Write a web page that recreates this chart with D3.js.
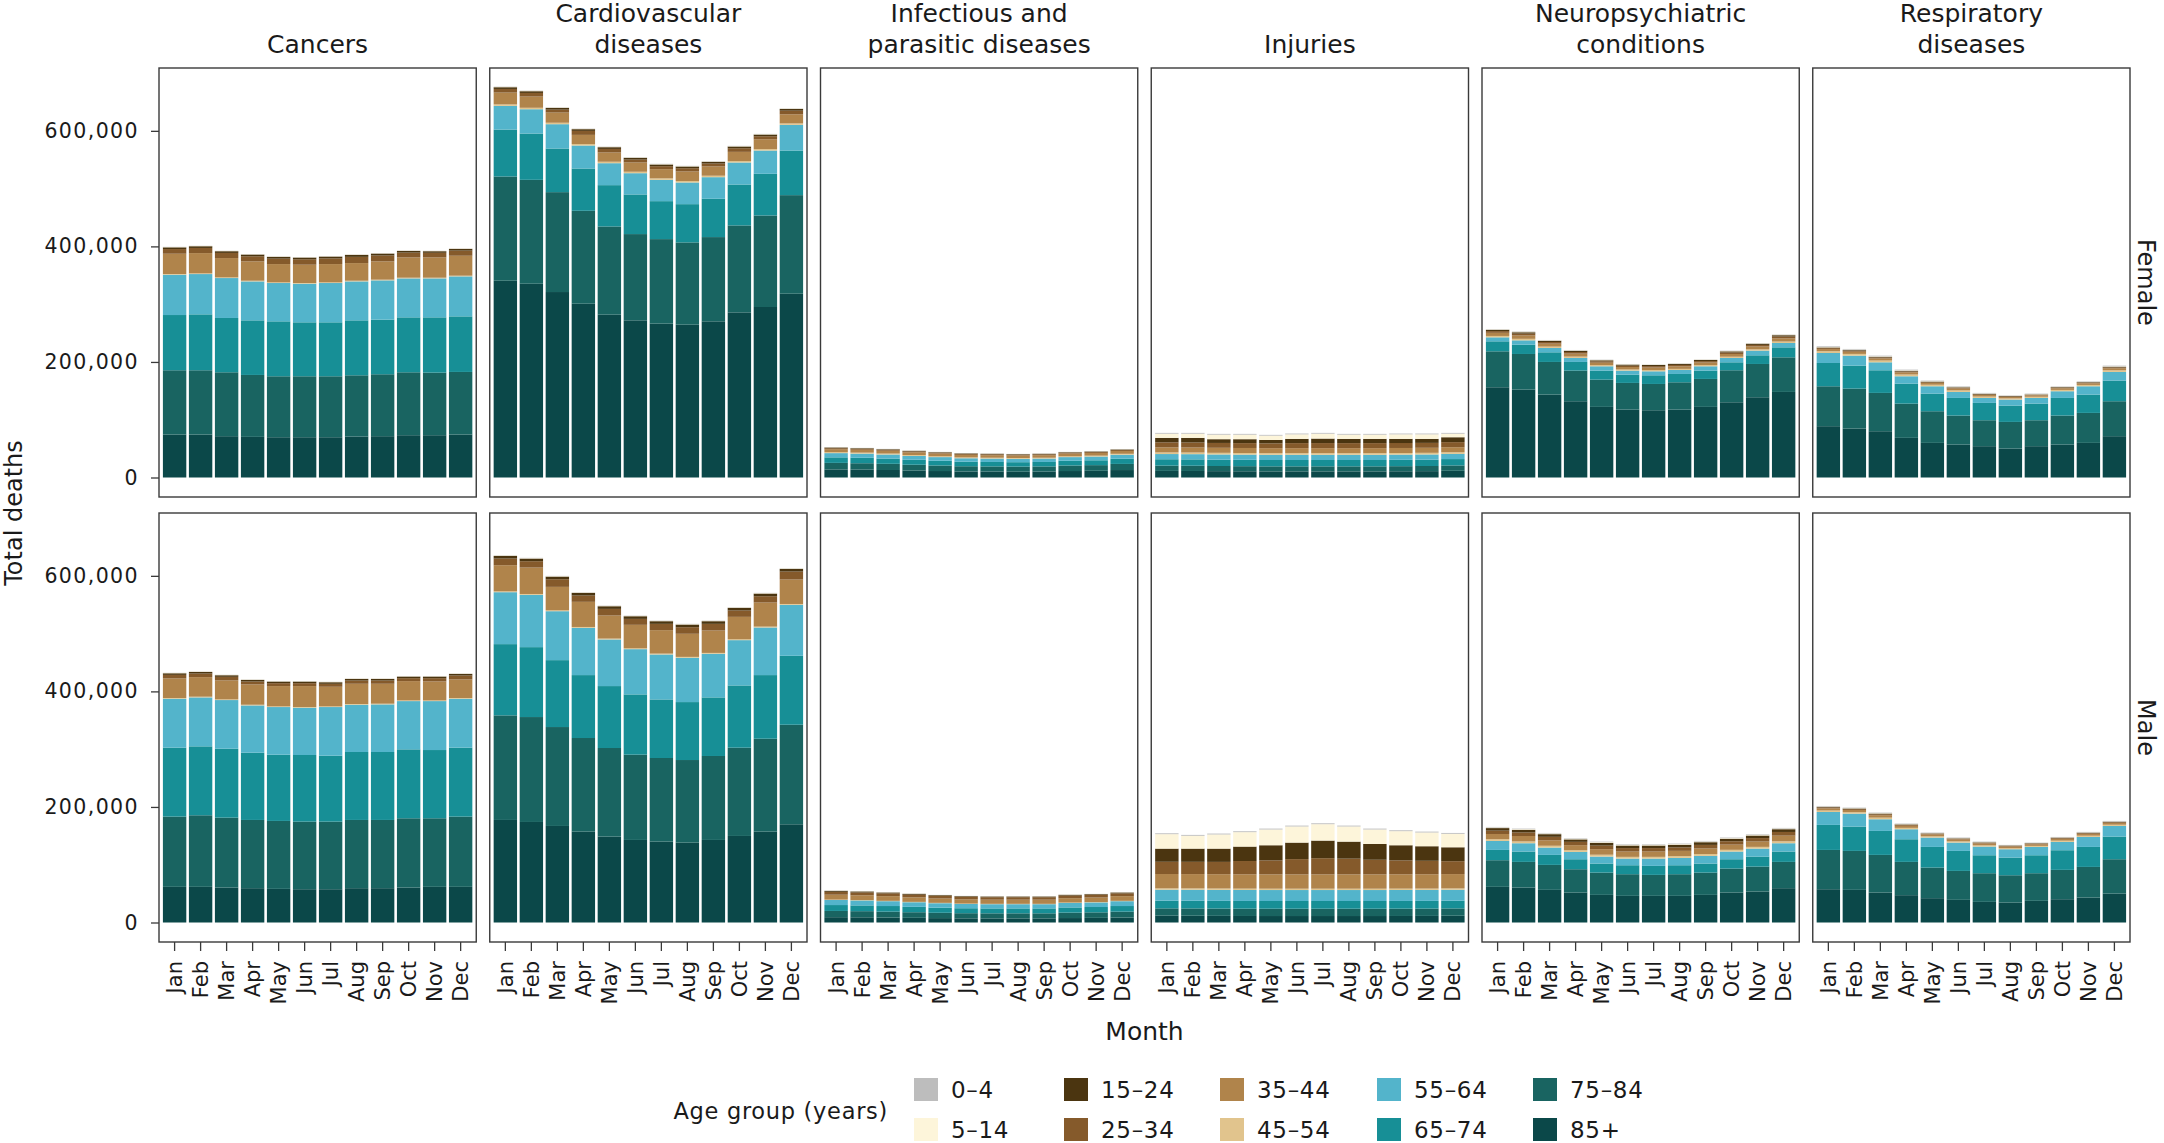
<!DOCTYPE html>
<html><head><meta charset="utf-8">
<script src="https://cdn.jsdelivr.net/npm/d3@7"></script>
<style>
body{margin:0;background:#fff;}
svg{display:block;}
text{font-family:"DejaVu Sans",sans-serif;fill:#1a1a1a;}
</style>
</head><body>
<svg id="chart" width="2164" height="1143"></svg>
<script>
// ---------- data (values in thousands of deaths) ----------
const months = ["Jan","Feb","Mar","Apr","May","Jun","Jul","Aug","Sep","Oct","Nov","Dec"];
const ageGroups = ["0–4","5–14","15–24","25–34","35–44","45–54","55–64","65–74","75–84","85+"];
const ageColors = ["#bdbdbd","#fdf5da","#4b3510","#855a2b","#b0844b","#e1c48d","#53b4cb","#178f96","#196461","#0b4849"];
const causeTitles = [["Cancers"],["Cardiovascular","diseases"],["Infectious and","parasitic diseases"],["Injuries"],["Neuropsychiatric","conditions"],["Respiratory","diseases"]];
const sexes = ["Female","Male"];
const yTicks = [0, 200, 400, 600];

// rows follow ageGroups order (0–4 ... 85+), columns follow months
const cancersFemale = [
 [0.3,0.3,0.3,0.3,0.3,0.3,0.3,0.3,0.3,0.3,0.3,0.3],
 [0.5,0.5,0.5,0.5,0.5,0.5,0.5,0.5,0.5,0.5,0.5,0.5],
 [3.0,3.0,3.0,3.0,3.1,3.0,3.2,3.4,3.3,2.9,2.8,3.0],
 [8.1,8.9,8.9,8.9,9.4,9.4,9.8,10.8,10.3,8.4,8.0,8.9],
 [35.1,35.1,33.4,33.4,31.6,31.7,31.6,30.5,31.6,35.1,35.1,34.5],
 [1.2,1.2,1.2,1.2,1.2,1.2,1.2,1.2,1.2,1.2,1.2,1.2],
 [69.8,69.7,69.1,67.4,66.3,66.8,68.0,67.4,68.0,67.4,67.4,69.2],
 [95.6,96.8,94.0,94.5,95.1,93.4,93.4,95.1,94.5,95.1,95.7,96.2],
 [111.3,111.3,110.6,107.2,105.5,105.5,105.5,106.0,107.2,108.9,108.3,108.4],
 [74.3,74.3,71.5,70.3,69.7,69.7,69.7,70.9,71.5,73.2,73.2,74.3]
];
const cancersMale = [
 [0.3,0.3,0.3,0.3,0.3,0.3,0.3,0.3,0.3,0.3,0.3,0.3],
 [0.5,0.5,0.5,0.5,0.5,0.5,0.5,0.5,0.5,0.5,0.5,0.5],
 [2.8,2.8,2.8,2.8,2.8,2.8,2.8,2.8,2.8,2.8,2.8,2.8],
 [6.2,6.2,6.2,5.1,5.0,5.0,5.1,5.6,5.6,5.1,5.7,6.8],
 [33.9,33.9,32.8,35.1,35.1,36.3,33.9,35.1,34.5,33.4,32.8,32.2],
 [1.2,1.2,1.2,1.2,1.2,1.2,1.2,1.2,1.2,1.2,1.2,1.2],
 [84.7,84.7,84.2,81.8,82.4,81.8,84.2,81.8,82.4,83.5,84.7,84.7],
 [119.3,119.3,119.3,116.4,114.7,115.3,114.1,117.6,117.6,119.3,118.1,119.3],
 [121.6,123.9,121.0,118.1,117.6,117.0,117.0,118.1,118.1,119.9,118.7,121.6],
 [61.7,61.7,60.5,59.4,58.2,57.6,57.6,59.4,59.4,60.5,61.7,61.7]
];
const cardioFemale = [
 [0.5,0.5,0.5,0.5,0.5,0.5,0.5,0.5,0.5,0.5,0.5,0.5],
 [0.6,0.6,0.6,0.6,0.6,0.6,0.6,0.6,0.6,0.6,0.6,0.6],
 [3.0,3.0,3.0,3.0,3.0,3.0,3.0,3.0,3.0,3.0,3.0,3.0],
 [6.3,6.3,5.1,6.9,6.2,5.1,5.1,5.7,5.1,6.3,5.1,6.3],
 [20.5,19.4,17.6,15.9,16.0,16.0,16.0,16.5,16.0,15.9,17.1,15.8],
 [2.5,2.5,2.5,2.5,2.5,2.5,2.5,2.5,2.5,2.5,2.5,2.5],
 [41.0,42.1,42.1,39.8,38.0,36.8,36.9,37.5,37.4,38.1,40.3,44.4],
 [81.2,80.1,75.5,73.2,71.5,68.6,65.7,66.2,66.3,70.8,72.1,77.2],
 [180.4,179.8,172.9,160.8,152.7,149.3,146.3,142.4,145.8,150.5,158.4,170.6],
 [340.6,335.4,321.0,300.8,281.8,272.0,266.3,264.5,270.3,285.8,295.1,318.1]
];
const cardioMale = [
 [0.5,0.5,0.5,0.5,0.5,0.5,0.5,0.5,0.5,0.5,0.5,0.5],
 [0.7,0.7,0.7,0.7,0.7,0.7,0.7,0.7,0.7,0.7,0.7,0.7],
 [4.6,4.6,4.6,4.6,4.6,4.6,4.6,4.6,4.6,4.6,4.6,4.6],
 [11.5,11.0,13.2,10.9,11.5,10.3,10.9,11.4,11.5,11.0,10.9,13.8],
 [45.2,45.7,40.6,43.5,39.9,40.6,40.6,40.0,38.8,38.8,41.7,42.3],
 [1.5,1.5,1.5,1.5,1.5,1.5,1.5,1.5,1.5,1.5,1.5,1.5],
 [89.9,90.5,84.7,81.8,80.7,78.3,77.8,76.7,75.5,78.4,82.4,88.2],
 [123.3,121.0,115.8,108.9,107.2,104.3,101.4,100.3,101.4,107.7,110.1,119.3],
 [181.0,181.6,171.2,162.0,153.3,147.6,144.7,142.9,145.3,152.8,160.8,172.3],
 [177.5,174.0,167.1,157.3,148.7,142.9,140.0,138.3,142.9,149.8,157.3,170.0]
];
const infectiousFemale = [
 [0.2,0.2,0.2,0.2,0.2,0.2,0.2,0.2,0.2,0.2,0.2,0.2],
 [0.3,0.3,0.3,0.3,0.3,0.3,0.3,0.3,0.3,0.3,0.3,0.3],
 [1.2,1.1,1.1,1.0,1.0,1.0,1.0,1.0,1.0,1.0,1.0,1.0],
 [1.7,1.7,1.6,1.6,1.5,1.5,1.5,1.5,1.5,1.5,1.5,1.6],
 [5.1,5.0,4.9,4.7,4.6,4.4,4.4,4.3,4.4,4.6,4.7,4.9],
 [1.7,1.7,1.6,1.6,1.5,1.5,1.4,1.4,1.4,1.5,1.5,1.6],
 [7.3,7.2,7.0,6.6,6.3,6.0,5.9,5.8,5.9,6.3,6.5,6.9],
 [9.6,9.4,9.1,8.6,8.2,7.8,7.7,7.6,7.7,8.2,8.4,9.0],
 [11.3,11.0,10.7,10.1,9.6,9.1,9.0,8.9,9.0,9.6,9.8,10.6],
 [14.0,13.7,13.0,12.0,11.2,10.4,10.2,10.0,10.2,11.2,11.6,12.9]
];
const infectiousMale = [
 [0.2,0.2,0.2,0.2,0.2,0.2,0.2,0.2,0.2,0.2,0.2,0.2],
 [0.3,0.3,0.3,0.3,0.3,0.3,0.3,0.3,0.3,0.3,0.3,0.3],
 [1.7,1.7,1.5,1.5,1.4,1.3,1.3,1.3,1.3,1.3,1.3,1.5],
 [5.0,4.9,4.8,4.6,4.4,4.3,4.2,4.2,4.2,4.5,4.6,4.8],
 [8.5,8.3,8.1,7.8,7.5,7.3,7.2,7.2,7.2,7.6,7.8,8.1],
 [0.6,0.6,0.6,0.6,0.6,0.6,0.6,0.6,0.6,0.6,0.6,0.6],
 [8.8,8.6,8.4,8.0,7.7,7.4,7.3,7.3,7.3,7.8,8.0,8.4],
 [10.2,10.0,9.7,9.3,8.9,8.6,8.5,8.5,8.5,9.0,9.2,9.7],
 [10.8,10.6,10.2,9.7,9.2,8.9,8.8,8.8,8.8,9.4,9.6,10.2],
 [9.2,9.0,8.6,8.1,7.6,7.2,7.1,7.1,7.1,7.7,8.0,8.6]
];
const injuriesFemale = [
 [1.4,1.4,1.4,1.4,1.4,1.4,1.4,1.4,1.4,1.4,1.4,1.4],
 [7.2,7.2,7.8,7.8,7.3,7.8,8.4,7.2,7.2,7.8,7.8,6.1],
 [7.8,8.0,6.5,6.8,6.0,7.4,7.8,7.4,7.4,7.2,7.0,8.5],
 [8.7,8.7,8.4,8.4,8.3,8.7,8.8,8.7,8.7,8.6,8.5,8.8],
 [8.7,8.7,8.7,8.7,8.7,8.7,8.7,8.7,8.7,8.7,8.7,8.7],
 [2.8,2.8,2.8,2.8,2.8,2.8,2.8,2.8,2.8,2.8,2.8,2.8],
 [9.0,9.0,9.0,9.0,9.0,9.0,9.0,9.0,9.0,9.0,9.0,9.0],
 [11.0,11.0,11.0,11.0,11.0,11.0,11.0,11.0,11.0,11.0,11.0,11.0],
 [9.2,9.1,8.9,8.8,8.7,8.7,8.7,8.7,8.7,8.8,8.9,9.3],
 [11.4,11.3,11.0,10.8,10.6,10.6,10.6,10.6,10.6,10.8,11.0,11.6]
];
const injuriesMale = [
 [1.5,1.5,1.5,1.5,1.5,1.5,1.5,1.5,1.5,1.5,1.5,1.5],
 [25.0,22.2,24.5,25.0,27.3,27.9,28.4,26.2,25.0,24.4,23.8,23.3],
 [22.8,22.9,23.0,25.0,26.2,28.6,30.5,29.5,27.4,26.2,25.2,24.1],
 [21.2,21.2,21.3,23.0,24.2,26.4,28.0,27.2,25.3,24.1,23.3,22.3],
 [24.8,24.8,24.8,24.8,24.8,24.8,24.8,24.8,24.8,24.8,24.8,24.8],
 [2.3,2.3,2.3,2.3,2.3,2.3,2.3,2.3,2.3,2.3,2.3,2.3],
 [19.0,19.0,19.0,19.0,19.0,19.0,19.0,19.0,19.0,19.0,19.0,19.0],
 [13.3,13.3,13.3,13.3,13.3,13.3,13.3,13.3,13.3,13.3,13.3,13.3],
 [12.7,12.7,12.7,12.7,12.7,12.7,12.7,12.7,12.7,12.7,12.7,12.7],
 [11.8,11.7,11.5,11.3,11.2,11.2,11.2,11.2,11.2,11.3,11.4,11.7]
];
const neuroFemale = [
 [0.6,0.7,0.6,0.6,0.5,0.5,0.5,0.5,0.5,0.5,0.5,0.6],
 [0.8,0.9,0.8,0.8,0.6,0.6,0.7,0.6,0.7,0.7,0.7,0.9],
 [2.2,2.4,2.1,2.1,1.8,1.8,1.9,1.8,1.9,2.0,2.1,2.3],
 [3.0,3.2,2.8,2.8,2.4,2.4,2.5,2.4,2.5,2.6,2.7,3.1],
 [5.4,5.8,5.2,5.2,4.3,4.3,4.5,4.4,4.5,4.8,5.0,5.6],
 [2.4,2.6,2.3,2.3,1.9,1.9,2.0,1.9,2.0,2.1,2.2,2.5],
 [6.9,7.5,7.5,6.9,7.5,6.9,6.9,6.9,7.5,7.5,8.1,7.5],
 [17.3,16.1,16.7,15.0,15.6,14.4,15.0,14.4,14.4,13.8,15.0,17.3],
 [62.2,61.7,56.5,53.0,47.2,46.1,45.5,47.2,48.4,55.4,57.6,59.9],
 [156.2,152.1,143.5,132.0,122.2,117.6,116.4,117.6,122.2,130.2,138.9,148.1]
];
const neuroMale = [
 [1.0,1.0,1.0,0.9,1.1,1.0,1.0,1.0,1.1,1.0,1.0,1.1],
 [1.0,1.1,1.1,1.0,1.1,1.1,1.1,1.1,1.1,1.0,1.1,1.1],
 [4.4,4.6,4.6,4.3,4.7,4.5,4.5,4.5,4.7,4.4,4.5,4.8],
 [5.8,6.1,6.1,5.7,6.2,6.0,6.0,6.0,6.2,5.8,6.0,6.4],
 [9.0,9.4,9.4,8.8,9.6,9.2,9.2,9.2,9.6,9.0,9.2,9.8],
 [3.0,3.1,3.1,2.9,3.2,3.0,3.0,3.0,3.2,3.0,3.0,3.3],
 [15.6,14.4,12.7,12.7,12.1,11.5,12.6,12.7,13.3,13.3,13.8,14.4],
 [17.8,17.9,17.3,17.3,15.6,15.5,15.6,15.5,15.6,16.1,17.3,17.9],
 [46.1,44.4,43.2,40.3,38.6,37.5,36.3,37.5,38.6,41.5,43.2,45.5],
 [61.7,60.5,56.5,51.9,47.8,46.1,46.1,46.1,47.8,51.9,53.6,59.4]
];
const respFemale = [
 [1.2,1.2,1.2,1.2,1.0,1.0,0.9,0.7,0.7,0.8,0.9,1.2],
 [0.8,0.8,0.8,0.8,0.7,0.7,0.6,0.5,0.6,0.6,0.6,0.7],
 [1.2,1.2,1.2,1.2,1.0,1.0,0.9,0.8,0.8,0.9,0.9,1.1],
 [1.6,1.6,1.6,1.6,1.3,1.3,1.2,1.0,1.0,1.2,1.2,1.5],
 [3.8,3.8,3.7,3.7,3.2,3.2,2.8,2.4,2.4,2.8,2.8,3.6],
 [3.0,3.0,3.0,3.0,2.6,2.6,2.3,2.0,2.0,2.3,2.3,2.8],
 [17.3,17.3,13.8,12.7,12.7,10.4,8.6,10.4,9.8,11.6,14.4,15.0],
 [40.3,39.7,39.2,34.6,30.5,30.5,30.0,28.3,28.8,30.5,31.7,35.7],
 [69.1,69.2,66.3,59.3,54.8,50.1,44.9,46.1,44.9,50.1,51.9,60.5],
 [88.8,84.7,80.1,68.6,59.9,57.1,54.2,50.1,54.2,57.1,59.9,71.5]
];
const respMale = [
 [0.9,0.9,0.9,0.8,0.7,0.8,0.7,0.6,0.6,0.7,0.8,0.8],
 [0.6,0.6,0.7,0.6,0.5,0.5,0.5,0.4,0.4,0.5,0.5,0.5],
 [1.1,1.1,1.2,1.0,0.9,0.9,0.9,0.8,0.8,0.9,0.9,0.9],
 [1.5,1.5,1.7,1.4,1.2,1.2,1.2,1.1,1.1,1.2,1.2,1.2],
 [3.8,3.8,4.2,3.6,3.2,3.2,3.2,2.8,2.8,3.2,3.2,3.2],
 [2.5,2.5,2.8,2.4,2.1,2.1,2.1,1.8,1.8,2.1,2.1,2.1],
 [22.4,22.4,20.2,17.3,16.2,14.4,15.0,14.4,14.4,14.4,17.3,18.4],
 [43.3,42.1,41.5,39.2,35.7,34.6,31.1,30.6,31.1,34.0,34.6,39.2],
 [68.0,67.4,65.1,57.6,53.0,50.1,49.6,47.2,47.8,50.8,53.0,59.4],
 [57.6,56.5,51.9,47.3,42.1,39.2,35.7,34.6,37.5,40.3,43.2,50.1]
];

// panel grid: [row = sex][col = cause]
const panels = [
  [cancersFemale, cardioFemale, infectiousFemale, injuriesFemale, neuroFemale, respFemale],
  [cancersMale,   cardioMale,   infectiousMale,   injuriesMale,   neuroMale,   respMale]
];

// ---------- layout ----------
const svg = d3.select("#chart");
const L = 159, R = 2130, G = 13.5;
const PW = (R - L - 5 * G) / 6;
const PH = 429;
const rowTop = [68, 513];
const color = d3.scaleOrdinal().domain(ageGroups).range(ageColors);
const x = d3.scaleBand().domain(months).range([0, PW]).paddingInner(0.1).paddingOuter(0.15);
const fmt = d3.format(",");
const stackKeys = ageGroups.slice().reverse(); // 85+ at the bottom
const stack = d3.stack().keys(stackKeys);

panels.forEach((row, r) => {
  const y = d3.scaleLinear().domain([-33.75, 708.75]).range([rowTop[r] + PH, rowTop[r]]);
  row.forEach((mat, c) => {
    const px = L + c * (PW + G);
    const g = svg.append("g").attr("transform", `translate(${px},0)`);
    const rows = months.map((m, i) => {
      const o = { month: m };
      ageGroups.forEach((a, k) => { o[a] = mat[k][i]; });
      return o;
    });
    const series = stack(rows);
    g.selectAll("g.layer").data(series).join("g")
      .attr("class", "layer")
      .attr("fill", d => color(d.key))
      .selectAll("rect").data(d => d).join("rect")
      .attr("x", d => x(d.data.month))
      .attr("width", x.bandwidth())
      .attr("y", d => y(d[1]))
      .attr("height", d => Math.max(0, y(d[0]) - y(d[1])));

    // panel border
    g.append("rect").attr("x", 0).attr("y", rowTop[r]).attr("width", PW).attr("height", PH)
      .attr("fill", "none").attr("stroke", "#3a3a3a").attr("stroke-width", 1.4);

    // y axis on first column
    if (c === 0) {
      const ax = g.append("g").call(d3.axisLeft(y).tickValues(yTicks).tickSize(8).tickPadding(12)
        .tickFormat(d => fmt(d * 1000)));
      ax.select(".domain").remove();
      ax.selectAll("line").attr("stroke", "#3a3a3a").attr("stroke-width", 1.3);
      ax.selectAll("text").attr("font-size", 20.5).style("letter-spacing", "1.4px")
        .attr("font-family", "DejaVu Sans").attr("fill", "#1a1a1a");
    }
    // x axis on bottom row
    if (r === 1) {
      const ax = g.append("g").attr("transform", `translate(0,${rowTop[r] + PH})`)
        .call(d3.axisBottom(x).tickSize(9));
      ax.select(".domain").remove();
      ax.selectAll("line").attr("stroke", "#3a3a3a").attr("stroke-width", 1.3);
      ax.selectAll("text")
        .attr("transform", "rotate(-90)")
        .attr("x", -19).attr("y", 0).attr("dy", "0.36em")
        .style("text-anchor", "end")
        .attr("font-size", 21).attr("font-family", "DejaVu Sans").attr("fill", "#1a1a1a");
    }
    // column titles
    if (r === 0) {
      const lines = causeTitles[c];
      lines.forEach((ln, i) => {
        g.append("text").attr("x", PW / 2).attr("y", 53 - (lines.length - 1 - i) * 31)
          .attr("text-anchor", "middle").attr("font-size", 25).text(ln);
      });
    }
  });
  // strip label on the right
  const cy = rowTop[r] + PH / 2;
  svg.append("text").attr("transform", `translate(2146,${cy}) rotate(90)`)
    .attr("text-anchor", "middle").attr("dy", "0.35em").attr("font-size", 24).text(sexes[r]);
});

// axis titles
svg.append("text").attr("transform", "translate(14,513) rotate(-90)")
  .attr("text-anchor", "middle").attr("dy", "0.35em").attr("font-size", 24).text("Total deaths");
svg.append("text").attr("x", (L + R) / 2).attr("y", 1031).attr("dy", "0.35em")
  .attr("text-anchor", "middle").attr("font-size", 25).text("Month");

// legend
const legend = svg.append("g");
legend.append("text").attr("x", 888).attr("y", 1111).attr("dy", "0.35em")
  .attr("text-anchor", "end").attr("font-size", 22.5).style("letter-spacing", "0.7px").text("Age group (years)");
const legX = [914, 1064, 1220, 1377, 1533];
const legY = [1078, 1118];
ageGroups.forEach((a, i) => {
  const col = Math.floor(i / 2), row = i % 2;
  const gx = legX[col], gy = legY[row];
  legend.append("rect").attr("x", gx).attr("y", gy).attr("width", 24).attr("height", 23).attr("fill", color(a));
  legend.append("text").attr("x", gx + 37).attr("y", gy + 11.5).attr("dy", "0.36em")
    .attr("font-size", 23).style("letter-spacing", "0.7px").text(a);
});
</script>
</body></html>
